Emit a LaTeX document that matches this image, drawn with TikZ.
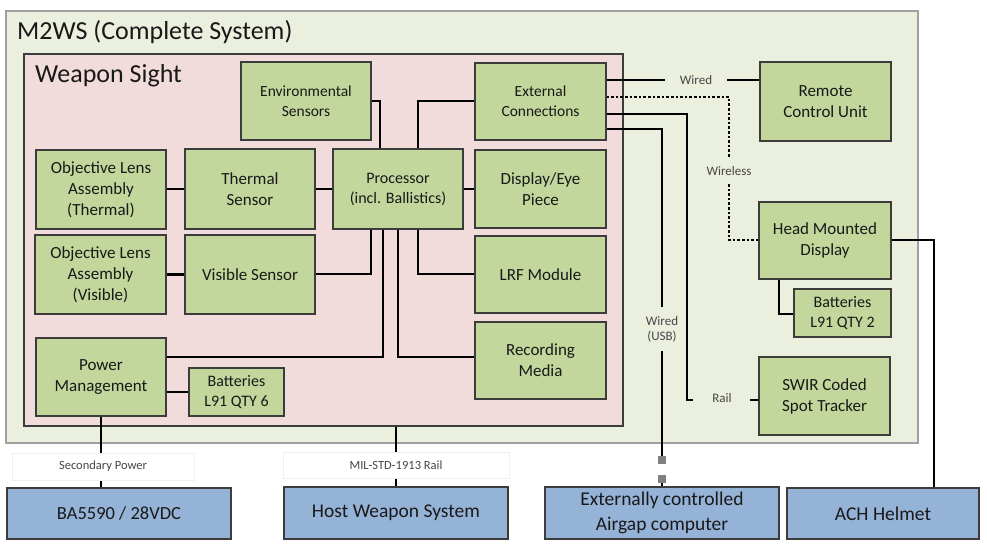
\documentclass[tikz,border=0pt]{standalone}
\usepackage{fontspec}
\setmainfont{Carlito}
\definecolor{outerbg}{RGB}{235,240,222}
\definecolor{outerbd}{RGB}{160,160,160}
\definecolor{wsbg}{RGB}{242,220,219}
\definecolor{gfill}{RGB}{195,214,155}
\definecolor{bfill}{RGB}{149,179,215}
\definecolor{bord}{RGB}{60,60,60}
\definecolor{lbl}{RGB}{70,70,70}
\definecolor{sq}{RGB}{128,128,128}
\tikzset{
 gbox/.style={draw=bord, line width=1.3pt, fill=gfill, align=center, font=\fontsize{17}{21}\selectfont, inner sep=0pt, text=black!90},
 gsmall/.style={font=\fontsize{15.5}{20}\selectfont},
 bbox/.style={draw=bord, line width=1.3pt, fill=bfill, align=center, font=\fontsize{19.5}{25}\selectfont, inner sep=0pt, text=black!90},
 conn/.style={line width=2.6pt, black},
 wless/.style={line width=2.6pt, black, dotted},
 lab/.style={text=lbl, font=\fontsize{13}{15}\selectfont, align=center, inner sep=0pt},
 slab/.style={text=lbl, font=\fontsize{12.5}{14}\selectfont, align=center, inner sep=0pt, draw=black!6, fill=white},
}
\begin{document}
\begin{tikzpicture}[x=1pt,y=-1pt]
\useasboundingbox (0,0) rectangle (987,548);
% containers
\node[draw=outerbd, line width=1.2pt, fill=outerbg, minimum width=912pt, minimum height=432pt, inner sep=0pt] (m2ws) at (462,227) {};
\node[anchor=base west, font=\fontsize{26}{30}\selectfont, text=black!90, inner sep=0pt] (m2wst) at (17,40) {M2WS (Complete System)};
\node[draw=bord, line width=1.3pt, fill=wsbg, minimum width=599pt, minimum height=372pt, inner sep=0pt] (ws) at (323.5,240) {};
\node[anchor=base west, font=\fontsize{26}{30}\selectfont, text=black!90, inner sep=0pt] (wst) at (35,83) {Weapon Sight};
% green boxes
\node[gbox, gsmall, minimum width=130pt, minimum height=78pt] (env) at (306,101) {Environmental\\Sensors};
\node[gbox, gsmall, minimum width=131pt, minimum height=77pt] (ext) at (540.5,101.5) {External\\Connections};
\node[gbox, minimum width=130pt, minimum height=79pt] (olt) at (101,189.5) {Objective Lens\\Assembly\\(Thermal)};
\node[gbox, minimum width=130pt, minimum height=80pt] (ts) at (250,189) {Thermal\\Sensor};
\node[gbox, font=\fontsize{16}{20}\selectfont, minimum width=130pt, minimum height=80pt] (proc) at (398,189) {Processor\\(incl. Ballistics)};
\node[gbox, minimum width=131pt, minimum height=78pt] (disp) at (540.5,189) {Display/Eye\\Piece};
\node[gbox, minimum width=131pt, minimum height=79pt] (olv) at (100.5,274.5) {Objective Lens\\Assembly\\(Visible)};
\node[gbox, minimum width=130pt, minimum height=79pt] (vs) at (250,274.5) {Visible Sensor};
\node[gbox, minimum width=131pt, minimum height=77pt] (lrf) at (540.5,274.5) {LRF Module};
\node[gbox, minimum width=130pt, minimum height=78pt] (pm) at (101,377) {Power\\Management};
\node[gbox, font=\fontsize{16}{20}\selectfont, minimum width=95pt, minimum height=48pt] (bat6) at (236.5,392) {Batteries\\L91 QTY 6};
\node[gbox, minimum width=131pt, minimum height=77pt] (rec) at (540.5,360.5) {Recording\\Media};
\node[gbox, minimum width=131pt, minimum height=79pt] (rcu) at (825.5,101.5) {Remote\\Control Unit};
\node[gbox, minimum width=132pt, minimum height=77pt] (hmd) at (825,240.5) {Head Mounted\\Display};
\node[gbox, font=\fontsize{16}{20}\selectfont, minimum width=97pt, minimum height=48pt] (bat2) at (842.5,313) {Batteries\\L91 QTY 2};
\node[gbox, minimum width=131pt, minimum height=78pt] (swir) at (824.5,396) {SWIR Coded\\Spot Tracker};
% blue boxes
\node[bbox, font=\fontsize{18.5}{25}\selectfont, minimum width=224pt, minimum height=51pt] (ba) at (119,513.5) {BA5590 / 28VDC};
\node[bbox, minimum width=224pt, minimum height=52pt] (hws) at (396,513) {Host Weapon System};
\node[bbox, minimum width=234pt, minimum height=52pt] (exc) at (662,513) {Externally controlled\\Airgap computer};
\node[bbox, minimum width=192pt, minimum height=51pt] (ach) at (883,513.5) {ACH Helmet};
% internal connectors
\coordinate (c1) at (380,101);
\draw[conn] (env.east|-c1) -- (c1) -- (c1|-proc.north);
\coordinate (c2) at (418,101);
\draw[conn] (c2|-proc.north) -- (c2) -- (ext.west|-c2);
\draw[conn] (olt.east|-ts.west) -- (ts.west);
\draw[conn] (ts.east) -- (proc.west);
\draw[conn] (proc.east) -- (disp.west);
\draw[conn] (olv.east|-vs.west) -- (vs.west);
\coordinate (c3) at (371,274);
\draw[conn] (vs.east|-c3) -- (c3) -- (c3|-proc.south);
\coordinate (c4) at (383,357);
\draw[conn] (pm.east|-c4) -- (c4) -- (c4|-proc.south);
\coordinate (c5) at (398,357);
\draw[conn] (c5|-proc.south) -- (c5) -- (rec.west|-c5);
\coordinate (c6) at (418,274);
\draw[conn] (c6|-proc.south) -- (c6) -- (lrf.west|-c6);
\draw[conn] (pm.east|-bat6.west) -- (bat6.west);
% external labels
\node[slab, minimum width=182pt, minimum height=27pt] (sec) at (103,466.5) {Secondary Power};
\node[slab, minimum width=226pt, minimum height=26pt] (mil) at (396,465) {MIL-STD-1913 Rail};
\coordinate (p1) at (101,453);
\coordinate (p2) at (101,481);
\draw[conn] (pm.south-|p1) -- (p1);
\draw[conn] (p2) -- (p2|-ba.north);
\coordinate (h1) at (396,452);
\coordinate (h2) at (396,479);
\draw[conn] (h1|-ws.south) -- (h1);
\draw[conn] (h2) -- (h2|-hws.north);
% wired to RCU
\node[lab] (wired) at (696,80) {Wired};
\coordinate (w1) at (665,80);
\coordinate (w2) at (727,80);
\draw[conn] (ext.east|-w1) -- (w1);
\draw[conn] (w2) -- (rcu.west|-w2);
% wireless to HMD
\node[lab] (wireless) at (729,171) {Wireless};
\coordinate (d0) at (729,97);
\coordinate (d1) at (729,157);
\coordinate (d2) at (729,184);
\coordinate (d3) at (729,240);
\draw[wless] (ext.east|-d0) -- (d0) -- (d1);
\draw[wless] (d2) -- (d3) -- (hmd.west|-d3);
% rail to SWIR
\node[lab] (rail) at (722,398) {Rail};
\coordinate (r0) at (687,114);
\coordinate (r1) at (687,400);
\coordinate (r2) at (693,400);
\coordinate (r3) at (750,400);
\draw[conn] (ext.east|-r0) -- (r0) -- (r1) -- (r2);
\draw[conn] (r3) -- (swir.west|-r3);
% USB to airgap computer
\node[lab] (usb) at (662,329) {Wired\\(USB)};
\coordinate (u0) at (662,129);
\coordinate (u1) at (662,307);
\coordinate (u2) at (662,351);
\coordinate (u3) at (662,456);
\coordinate (u4) at (662,483);
\draw[conn] (ext.east|-u0) -- (u0) -- (u1);
\draw[conn] (u2) -- (u3);
\draw[conn] (u4) -- (u4|-exc.north);
\node[fill=sq, minimum size=8pt, inner sep=0pt] (sq1) at (662,459.5) {};
\node[fill=sq, minimum size=8pt, inner sep=0pt] (sq2) at (662,479) {};
% HMD to ACH, HMD to batteries
\coordinate (a0) at (934,240);
\draw[conn] (hmd.east|-a0) -- (a0) -- (a0|-ach.north);
\coordinate (b0) at (779,314);
\draw[conn] (b0|-hmd.south) -- (b0) -- (bat2.west|-b0);
\end{tikzpicture}
\end{document}
